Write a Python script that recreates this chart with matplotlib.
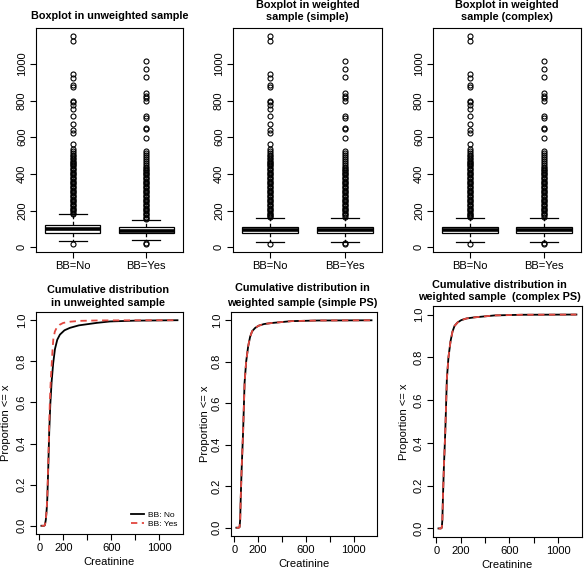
import numpy as np
import matplotlib
matplotlib.use("Agg")
import matplotlib.pyplot as plt

plt.rcParams['font.family'] = ['Liberation Sans', 'DejaVu Sans']

# ---- data ----
groups = ["BB=No", "BB=Yes"]

# box statistics (q1, median, q3, lower whisker, upper whisker)
unw_no_box = [80, 99, 122, 35, 180]
unw_yes_box = [77, 90, 110, 38, 150]
simple_no_box = [77, 95, 113, 28, 162]
simple_yes_box = [77, 95, 113, 28, 162]
complex_no_box = [77, 95, 113, 28, 162]
complex_yes_box = [77, 95, 113, 28, 162]

# outlying creatinine values
no_low = [18]
yes_low = [20, 25]
no_high = [1152, 1124, 945, 921, 885, 876, 799, 790, 775, 753, 713, 671, 638, 622,
           561, 534, 526, 516, 505, 497, 488, 480, 472, 465,
           462, 455, 448, 441, 434, 427, 420, 413, 406, 399, 392, 385, 378, 371,
           364, 357, 350, 343, 336, 329, 322, 315, 308, 301, 294, 287, 280, 273,
           266, 259, 252, 245, 238, 231, 224, 217, 210, 203, 196, 189, 184, 176,
           170, 165]
yes_high = [1015, 969, 927, 839, 823, 812, 799, 717, 707, 653, 644, 598,
            525, 516, 505, 492, 480, 470, 460, 450, 440, 430, 424,
            420, 413, 406, 399, 392, 385, 378, 371, 364, 357, 350, 343, 336, 329,
            322, 315, 308, 301, 294, 287, 280, 273, 266, 259, 252, 245, 238, 231,
            224, 217, 210, 203, 196, 189, 182, 175, 168, 161, 155]

# cumulative distributions
unw_no_x = [18, 40, 47, 55, 62, 67, 75, 83, 92, 103, 116, 131, 150, 172, 210, 256, 330, 478, 589, 800, 1151]
unw_no_y = [0.0, 0.0, 0.003, 0.03, 0.08, 0.13, 0.28, 0.455, 0.59, 0.70, 0.79, 0.86, 0.905, 0.93, 0.951, 0.963, 0.975, 0.987, 0.994, 0.998, 1.0]
unw_yes_x = [18, 40, 47, 55, 62, 67, 75, 82, 89, 96, 103, 110, 117, 130, 145, 170, 200, 260, 339, 500, 1015, 1151]
unw_yes_y = [0.0, 0.0, 0.003, 0.03, 0.08, 0.14, 0.30, 0.47, 0.616, 0.71, 0.777, 0.85, 0.907, 0.945, 0.963, 0.978, 0.987, 0.993, 0.997, 0.999, 1.0, 1.0]
wt_x = [18, 38, 45, 50, 54, 62, 74, 87, 100, 117, 133, 150, 175, 205, 250, 315, 480, 700, 1151]
wt_y = [0.0, 0.0, 0.003, 0.04, 0.13, 0.28, 0.455, 0.70, 0.80, 0.875, 0.92, 0.947, 0.963, 0.974, 0.982, 0.987, 0.996, 0.999, 1.0]

box_panels = [
    ("Boxplot in unweighted sample", unw_no_box, unw_yes_box),
    ("Boxplot in weighted\nsample (simple)", simple_no_box, simple_yes_box),
    ("Boxplot in weighted\nsample (complex)", complex_no_box, complex_yes_box),
]
cdf_panels = [
    ("Cumulative distribution\nin unweighted sample", unw_no_x, unw_no_y, unw_yes_x, unw_yes_y),
    ("Cumulative distribution in\nweighted sample (simple PS)", wt_x, wt_y, wt_x, wt_y),
    ("Cumulative distribution in\nweighted sample  (complex PS)", wt_x, wt_y, wt_x, wt_y),
]

W, H = 586, 569
fig = plt.figure(figsize=(W / 100, H / 100), dpi=100)


def add_axes_px(left, right, top, bottom):
    return fig.add_axes([left / W, 1 - bottom / H, (right - left) / W, (bottom - top) / H])


def style_axes(ax):
    for sp in ax.spines.values():
        sp.set_linewidth(0.8)
    ax.tick_params(direction='out', length=4.5, width=0.8, labelsize=8, pad=2)
    for lab in ax.get_yticklabels():
        lab.set_rotation(90)
        lab.set_va('center')


def make_stats(box, low, high):
    q1, med, q3, lo, hi = box
    fl = low + [v for v in high if v > hi]
    return dict(q1=q1, med=med, q3=q3, whislo=lo, whishi=hi, fliers=fl)


box_pos = [(36, 183, 28, 252), (233, 382, 28, 252), (433, 581, 28, 252)]
title_y = [[16], [5, 17], [5, 17]]

for (title, no_box, yes_box), (l, r, t, b), ty in zip(box_panels, box_pos, title_y):
    ax = add_axes_px(l, r, t, b)
    stats = [make_stats(no_box, no_low, no_high), make_stats(yes_box, yes_low, yes_high)]
    ax.bxp(stats, positions=[1, 2], widths=0.75, patch_artist=True,
           boxprops=dict(facecolor='white', edgecolor='black', linewidth=0.9),
           medianprops=dict(color='black', linewidth=2.6),
           whiskerprops=dict(color='black', linewidth=0.9, linestyle=(0, (3, 2))),
           capprops=dict(color='black', linewidth=0.9),
           capwidths=0.375,
           flierprops=dict(marker='o', markersize=3.6, markerfacecolor='none',
                           markeredgecolor='black', markeredgewidth=0.8))
    ax.set_xlim(0.5, 2.5)
    ax.set_ylim(-25, 1195)
    ax.set_yticks([0, 200, 400, 600, 800, 1000])
    ax.set_xticks([1, 2])
    ax.set_xticklabels(groups)
    style_axes(ax)
    lines = title.split("\n")
    for txt, yy in zip(lines, ty):
        fig.text((l + r) / 2 / W, 1 - yy / H, txt, ha='center', va='center',
                 fontsize=7.8, fontweight='bold')

cdf_pos = [(36, 183, 312, 534), (231, 377, 312, 536), (433, 582, 306, 537)]
cdf_title_y = [[290, 303], [288, 303], [285, 297]]
cdf_title_x = [108, 302, 499]
ylab_x = [6, 205, 404]

for i, ((title, nx, ny, yx, yy_), (l, r, t, b), ty) in enumerate(zip(cdf_panels, cdf_pos, cdf_title_y)):
    ax = add_axes_px(l, r, t, b)
    ax.plot(nx, ny, color='black', linewidth=1.3, label='BB: No')
    ax.plot(yx, yy_, color='#e2473f', linewidth=1.3, linestyle=(0, (3.5, 2.5)), label='BB: Yes')
    ax.set_xlim(-27, 1197)
    ax.set_ylim(-0.04, 1.04)
    ax.set_xticks([0, 200, 400, 600, 800, 1000])
    ax.set_xticklabels(['0', '200', '', '600', '', '1000'])
    ax.set_yticks([0.0, 0.2, 0.4, 0.6, 0.8, 1.0])
    ax.set_yticklabels(['0.0', '0.2', '0.4', '0.6', '0.8', '1.0'])
    style_axes(ax)
    ax.set_xlabel('Creatinine', fontsize=8, labelpad=3)
    fig.text(ylab_x[i] / W, 1 - (t + b) / 2 / H, 'Proportion <= x', rotation=90,
             ha='center', va='center', fontsize=8)
    if i == 0:
        ax.legend(loc='lower right', frameon=False, fontsize=6, handlelength=1.5,
                  handletextpad=0.5, borderaxespad=0.3, labelspacing=0.15)
    for txt, yv in zip(title.split("\n"), ty):
        fig.text(cdf_title_x[i] / W, 1 - yv / H, txt, ha='center', va='center',
                 fontsize=7.8, fontweight='bold')

fig.savefig('out.png', dpi=100)
